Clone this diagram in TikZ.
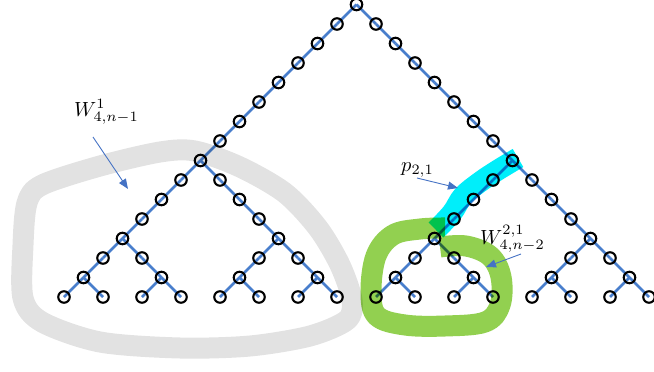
\documentclass[tikz,border=0pt]{standalone}
\usepackage{graphicx}
\usetikzlibrary{arrows.meta,backgrounds}
\definecolor{treeblue}{RGB}{72,126,204}
\definecolor{arrblue}{RGB}{68,114,196}
\definecolor{hlgray}{RGB}{226,226,226}
\definecolor{hlgreen}{RGB}{146,208,80}
\definecolor{hlcyan}{RGB}{0,238,250}
\newcommand{\biglbl}[1]{\scalebox{2.05}{$#1$}}
\tikzset{
  tn/.style={circle,draw=black,line width=2.1pt,minimum size=11.5pt,inner sep=0pt},
  edge/.style={draw=treeblue,line width=2.5pt},
  hl/.style={line width=21pt,line cap=round,line join=round},
  arr/.style={draw=arrblue,line width=0.9pt,-{Triangle[length=10pt,width=8pt]}},
  lbl/.style={inner sep=0pt}
}
\begin{document}
\begin{tikzpicture}[x=1pt,y=-1pt]
\useasboundingbox (0,0) rectangle (654,372);
% ---------- tree ----------
\begin{scope}[shift={(64pt,-297pt)},x=19.5pt,y=19.5pt]
  \node[tn] (n15-15) at (15,15) {};
  \foreach \cx/\cy/\d in {15/15/8,7/7/4,23/7/4,3/3/2,11/3/2,19/3/2,27/3/2,
     1/1/1,5/1/1,9/1/1,13/1/1,17/1/1,21/1/1,25/1/1,29/1/1}{
    \foreach \t in {1,...,\d}{
      \pgfmathtruncatemacro\xl{\cx-\t}
      \pgfmathtruncatemacro\xr{\cx+\t}
      \pgfmathtruncatemacro\yy{\cy-\t}
      \node[tn] (n\xl-\yy) at (\xl,\yy) {};
      \node[tn] (n\xr-\yy) at (\xr,\yy) {};
    }
  }
  \begin{pgfonlayer}{background}
  \foreach \cx/\cy/\d in {15/15/8,7/7/4,23/7/4,3/3/2,11/3/2,19/3/2,27/3/2,
     1/1/1,5/1/1,9/1/1,13/1/1,17/1/1,21/1/1,25/1/1,29/1/1}{
    \foreach \t in {1,...,\d}{
      \pgfmathtruncatemacro\xl{\cx-\t}
      \pgfmathtruncatemacro\xr{\cx+\t}
      \pgfmathtruncatemacro\yy{\cy-\t}
      \pgfmathtruncatemacro\xpl{\cx-\t+1}
      \pgfmathtruncatemacro\xpr{\cx+\t-1}
      \pgfmathtruncatemacro\yp{\cy-\t+1}
      \draw[edge] (n\xpl-\yp.center) -- (n\xl-\yy.center);
      \draw[edge] (n\xpr-\yp.center) -- (n\xr-\yy.center);
    }
  }
  \end{pgfonlayer}
\end{scope}
% ---------- highlights ----------
\begin{scope}[blend mode=multiply]
  \draw[hl,draw=hlgray] plot[smooth cycle,tension=0.5] coordinates {
    (23,245) (27,203) (42,185) (100,166) (160,152) (195,151) (240,167)
    (285,193) (318,228) (340,265) (352,300) (347,320) (310,336) (250,346)
    (180,348) (100,342) (42,322) (23,298)};
  \draw[hl,draw=hlcyan,line cap=butt] plot[smooth,tension=0.6] coordinates {
    (436,230) (452,213) (463,196) (480,182) (498,170) (518,158)};
  \draw[hl,draw=hlgreen,line cap=butt] plot[smooth,tension=0.6] coordinates {
    (445,228) (420,229) (393,235) (376,256) (371,292) (377,316) (405,325)
    (445,326) (485,322) (500,305) (501,277) (490,256) (466,246) (440,247)};
\end{scope}
% ---------- labels and arrows ----------
\node[lbl,anchor=base west] (w1) at (74,116) {\biglbl{W^{1}_{4,n-1}}};
\node[lbl,anchor=base west] (p21) at (401,171) {\biglbl{p_{2,1}}};
\node[lbl,anchor=base west] (w21) at (480,244) {\biglbl{W^{2,1}_{4,n-2}}};
\coordinate (a1s) at (93,137);
\coordinate (a1e) at (128,189);
\coordinate (a2s) at (417,178);
\coordinate (a2e) at (458,188);
\coordinate (a3s) at (521,254);
\coordinate (a3e) at (486,267);
\draw[arr] (a1s) -- (a1e);
\draw[arr] (a2s) -- (a2e);
\draw[arr] (a3s) -- (a3e);
\end{tikzpicture}
\end{document}
